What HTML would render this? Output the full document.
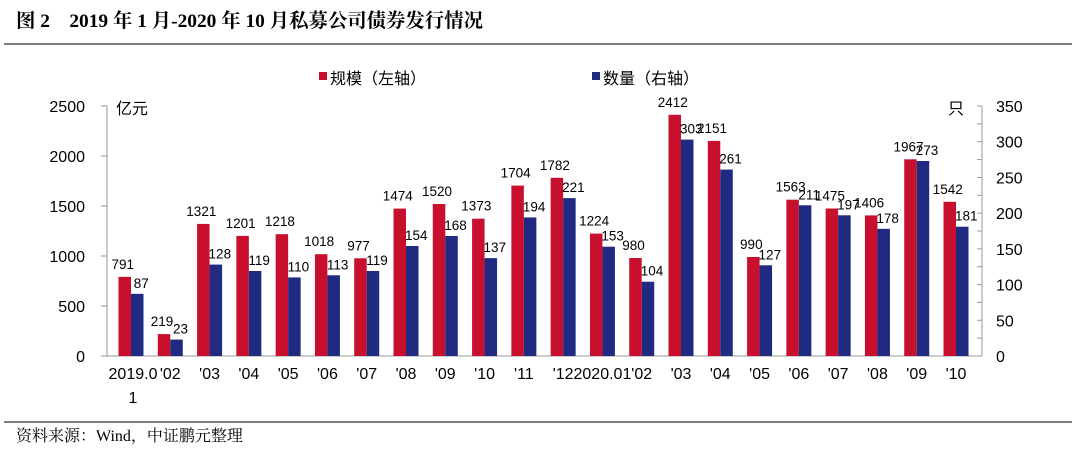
<!DOCTYPE html>
<html><head><meta charset="utf-8"><style>
body{margin:0;background:#fff;width:1072px;height:448px;overflow:hidden;font-family:"Liberation Sans","Noto Sans CJK SC",sans-serif}
</style></head><body>
<svg width="1072" height="448" xmlns="http://www.w3.org/2000/svg">
<text x="16" y="27" font-family="Liberation Serif,Noto Serif CJK SC,serif" font-weight="bold" font-size="19.4">图 2　2019 年 1 月-2020 年 10 月私募公司债券发行情况</text>
<line x1="4" y1="44" x2="1072" y2="44" stroke="#555" stroke-width="1.5"/>
<line x1="4" y1="422" x2="1072" y2="422" stroke="#555" stroke-width="1.5"/>
<text x="16" y="441" font-family="Liberation Serif,Noto Serif CJK SC,serif" font-size="16">资料来源：Wind，中证鹏元整理</text>
<g>
<rect x="319" y="72" width="8" height="8" fill="#c8102e"/>
<text x="330" y="84" font-size="16">规模（左轴）</text>
<rect x="592" y="72" width="8" height="8" fill="#1f2a80"/>
<text x="603" y="84" font-size="16">数量（右轴）</text>
</g>
<text x="116" y="114" font-size="16">亿元</text>
<text x="948" y="114" font-size="16">只</text>
<g id="plot"></g>
</svg>
<script>
const categories=["2019.01","'02","'03","'04","'05","'06","'07","'08","'09","'10","'11","'12","2020.01","'02","'03","'04","'05","'06","'07","'08","'09","'10"];
const scaleValues=[791,219,1321,1201,1218,1018,977,1474,1520,1373,1704,1782,1224,980,2412,2151,990,1563,1475,1406,1967,1542];
const countValues=[87,23,128,119,110,113,119,154,168,137,194,221,153,104,303,261,127,211,197,178,273,181];
const leftTicks=[0,500,1000,1500,2000,2500];
const rightTicks=[0,50,100,150,200,250,300,350];
const NS="http://www.w3.org/2000/svg";
const g=document.getElementById('plot');
const X0=107,X1=982,Y0=356,Y1=106;
const yL=v=>Y0-(v/2500)*(Y0-Y1);
const yR=v=>Y0-(v/350)*(Y0-Y1);
const C0=131,C1=956;
const gw=(C1-C0)/(categories.length-1);
const cx=i=>C0+i*gw;
function mk(t,a){const e=document.createElementNS(NS,t);for(const k in a)e.setAttribute(k,a[k]);g.appendChild(e);return e;}
let e;
e=mk('line',{x1:X0,y1:Y0,x2:X0,y2:Y1,stroke:'#999'});


e=mk('line',{x1:X1,y1:Y0,x2:X1,y2:Y1,stroke:'#999'});


e=mk('line',{x1:X0,y1:Y0,x2:X1,y2:Y0,stroke:'#999'});


leftTicks.forEach(v=>{
  mk('line',{x1:X0-6,y1:yL(v),x2:X0,y2:yL(v),stroke:'#999'});
  e=mk('text',{x:85,y:yL(v)+6,'font-size':16,'text-anchor':'end'});e.textContent=v;
  
  
});
for(let v=0;v<=350;v+=25){mk('line',{x1:X1,y1:yR(v),x2:X1-5,y2:yR(v),stroke:'#999'});}
rightTicks.forEach(v=>{
  e=mk('text',{x:996,y:yR(v)+6,'font-size':16});e.textContent=v;
  
  
});
categories.forEach((c,i)=>{
  const bw=12.5;const rx=cx(i)-bw;const bx=cx(i);
  e=mk('rect',{x:rx,y:yL(scaleValues[i]),width:bw,height:Y0-yL(scaleValues[i]),fill:'#c8102e'});
  
  
  e=mk('rect',{x:bx,y:yR(countValues[i]),width:bw,height:Y0-yR(countValues[i]),fill:'#1f2a80'});
  
  
  e=mk('text',{x:rx+bw/2-2,y:yL(scaleValues[i])-8,'font-size':13.5,'text-anchor':'middle'});e.textContent=scaleValues[i];
  
  
  e=mk('text',{x:bx+bw/2+4,y:yR(countValues[i])-6,'font-size':13.5,'text-anchor':'middle'});e.textContent=countValues[i];
  
  
  if(i===0){
    e=mk('text',{x:cx(i)+2,y:379,'font-size':16,'text-anchor':'middle'});e.textContent='2019.0';
    
    
    e=mk('text',{x:cx(i)+2,y:403,'font-size':16,'text-anchor':'middle'});e.textContent='1';
    
    
  }else{
    e=mk('text',{x:cx(i),y:379,'font-size':16,'text-anchor':'middle'});e.textContent=c;
    
    
  }
});
</script>
</body></html>
